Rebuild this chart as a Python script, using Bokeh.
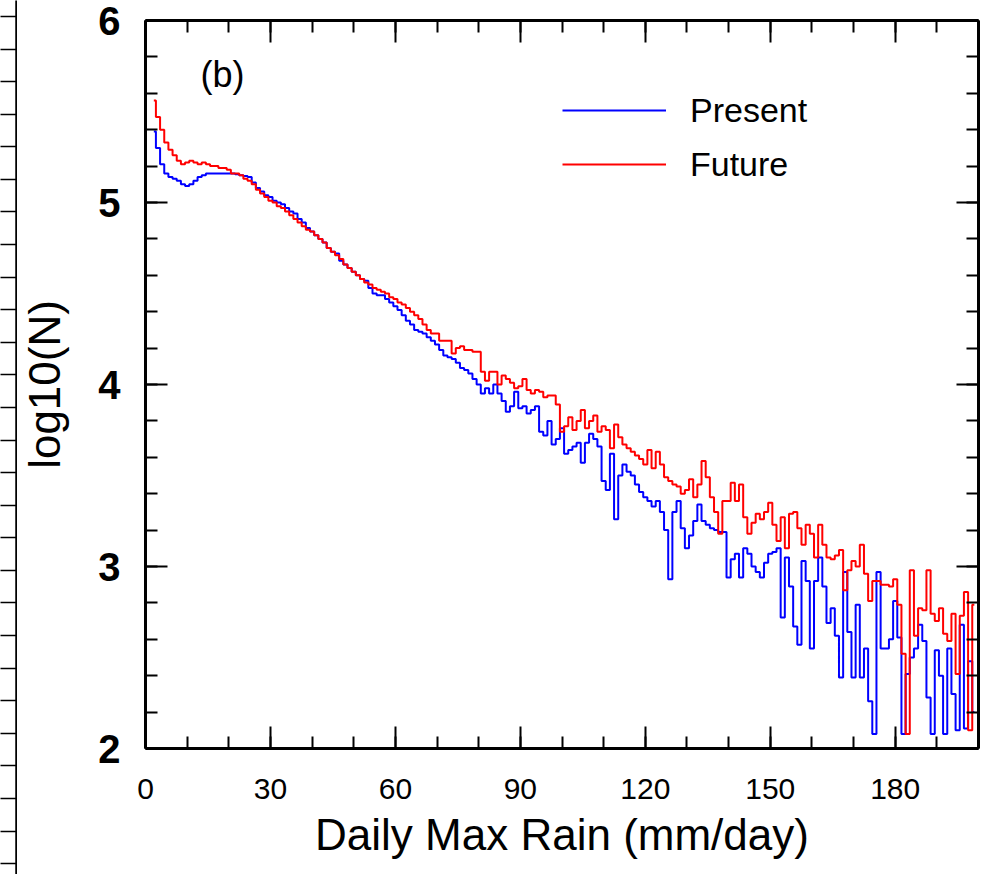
from bokeh.plotting import figure
from bokeh.models import Range1d, LinearAxis, SingleIntervalTicker, Label
from bokeh.layouts import row
from bokeh.embed import file_html
from bokeh.resources import INLINE

# ---------------- data ----------------
rain_bins = list(range(2, 200))  # mm/day, 1 mm/day bins

present = [
    5.39, 5.30, 5.21, 5.16, 5.14, 5.13, 5.12, 5.10, 5.09, 5.10,   # 2-11
    5.12, 5.14, 5.15, 5.16, 5.16, 5.16, 5.16, 5.16, 5.16, 5.16,   # 12-21
    5.155, 5.15, 5.145, 5.14, 5.11, 5.08, 5.06, 5.04, 5.03, 5.01, # 22-31
    5.00, 4.99, 4.97, 4.95, 4.94, 4.91, 4.89, 4.86, 4.84, 4.82,   # 32-41
    4.80, 4.78, 4.75, 4.73, 4.72, 4.68, 4.66, 4.64, 4.62, 4.60,   # 42-51
    4.58, 4.57, 4.53, 4.50, 4.49, 4.49, 4.47, 4.45, 4.43, 4.41,   # 52-61
    4.38, 4.35, 4.33, 4.30, 4.29, 4.28, 4.26, 4.24, 4.22, 4.19,   # 62-71
    4.16, 4.15, 4.14, 4.12, 4.09, 4.08, 4.06, 4.03, 4.00, 3.95,   # 72-81
    3.98, 3.95, 4.00, 3.95, 3.91, 3.85, 3.88, 3.96, 3.87, 3.88,   # 82-91
    3.84, 3.86, 3.88, 3.74, 3.72, 3.80, 3.67, 3.70, 3.76, 3.62,   # 92-101
    3.64, 3.66, 3.68, 3.57, 3.68, 3.73, 3.70, 3.66, 3.47, 3.42,   # 102-111
    3.62, 3.26, 3.50, 3.56, 3.52, 3.50, 3.45, 3.41, 3.38, 3.36,   # 112-121
    3.33, 3.36, 3.30, 3.20, 2.93, 3.30, 3.36, 3.21, 3.10, 3.17,   # 122-131
    3.25, 3.34, 3.25, 3.23, 3.21, 3.20, 3.19, 3.19, 2.94, 3.04,   # 132-141
    3.07, 2.94, 3.10, 3.07, 3.00, 2.97, 2.94, 3.02, 3.07, 3.08,   # 142-151
    3.10, 2.72, 3.05, 2.89, 2.67, 2.57, 3.03, 2.92, 2.55, 2.92,   # 152-161
    3.05, 2.89, 2.69, 2.77, 2.62, 2.39, 2.97, 2.64, 2.39, 2.79,   # 162-171
    2.39, 2.55, 2.26, 2.08, 2.97, 2.55, 2.55, 2.60, 2.81, 2.61,   # 172-181
    2.08, 2.41, 2.50, 2.55, 2.68, 2.59, 2.28, 2.08, 2.54, 2.40,   # 182-191
    2.08, 2.55, 2.30, 2.10, 2.68, 2.11, 2.48, 2.20,               # 192-199
]

future = [
    5.56, 5.47, 5.40, 5.33, 5.29, 5.26, 5.23, 5.21, 5.22, 5.23,   # 2-11
    5.22, 5.21, 5.22, 5.21, 5.20, 5.20, 5.19, 5.19, 5.18, 5.16,   # 12-21
    5.16, 5.15, 5.13, 5.12, 5.10, 5.07, 5.05, 5.03, 5.01, 5.00,   # 22-31
    4.98, 4.97, 4.95, 4.93, 4.91, 4.89, 4.87, 4.85, 4.84, 4.82,   # 32-41
    4.80, 4.78, 4.75, 4.73, 4.71, 4.69, 4.66, 4.64, 4.62, 4.60,   # 42-51
    4.58, 4.56, 4.55, 4.53, 4.52, 4.51, 4.50, 4.48, 4.47, 4.45,   # 52-61
    4.44, 4.42, 4.40, 4.38, 4.36, 4.33, 4.30, 4.28, 4.28, 4.24,   # 62-71
    4.24, 4.24, 4.17, 4.20, 4.21, 4.19, 4.19, 4.18, 4.18, 4.07,   # 72-81
    4.02, 4.07, 4.07, 4.00, 4.05, 4.03, 4.01, 3.98, 3.99, 4.03,   # 82-91
    3.97, 3.95, 3.97, 3.96, 3.93, 3.94, 3.94, 3.89, 3.74, 3.77,   # 92-101
    3.82, 3.75, 3.80, 3.86, 3.76, 3.80, 3.83, 3.74, 3.77, 3.75,   # 102-111
    3.65, 3.78, 3.71, 3.67, 3.65, 3.63, 3.61, 3.59, 3.56, 3.64,   # 112-121
    3.54, 3.63, 3.56, 3.49, 3.47, 3.45, 3.44, 3.40, 3.42, 3.48,   # 122-131
    3.38, 3.45, 3.58, 3.49, 3.38, 3.30, 3.18, 3.36, 3.36, 3.46,   # 132-141
    3.36, 3.45, 3.27, 3.18, 3.24, 3.29, 3.26, 3.30, 3.35, 3.23,   # 142-151
    3.14, 3.27, 3.10, 3.29, 3.30, 3.21, 3.12, 3.23, 3.18, 3.05,   # 152-161
    3.23, 3.12, 3.05, 3.04, 3.06, 3.09, 2.87, 2.98, 3.03, 3.00,   # 162-171
    3.12, 2.96, 2.81, 2.92, 2.92, 2.90, 2.90, 2.89, 2.93, 2.79,   # 172-181
    2.52, 2.08, 2.98, 2.62, 2.77, 2.76, 2.98, 2.74, 2.70, 2.77,   # 182-191
    2.63, 2.59, 2.74, 2.41, 2.73, 2.86, 2.10, 2.79,               # 192-199
]

x_label = "Daily Max Rain (mm/day)"
y_label = "log10(N)"
panel_tag = "(b)"
series_names = ["Present", "Future"]

FONT = "Liberation Sans"


def hide_labels(ax):
    ax.major_label_text_font_size = "1px"
    ax.major_label_text_color = None
    ax.major_label_standoff = 0


# ---------------- remnant of the neighbouring panel (left edge) ----------------
side = figure(width=17, height=874, output_backend="svg", toolbar_location=None,
              x_range=Range1d(0, 1), y_range=Range1d(-26.335, 0.491),
              x_axis_location=None, y_axis_location=None,
              min_border_left=16, min_border_right=0, min_border_top=0, min_border_bottom=0)
side.frame_align = False
side.outline_line_color = None
side.xgrid.visible = False
side.ygrid.visible = False
sax = LinearAxis(ticker=SingleIntervalTicker(interval=1, num_minor_ticks=0))
sax.axis_line_width = 2.5
sax.major_tick_in = 0
sax.major_tick_out = 16
sax.major_tick_line_width = 1.5
sax.minor_tick_line_color = None
hide_labels(sax)
side.add_layout(sax, "left")

# ---------------- main panel ----------------
p = figure(width=966, height=874, output_backend="svg", toolbar_location=None,
           x_range=Range1d(0, 200), y_range=Range1d(2, 6),
           min_border_left=128, min_border_right=5, min_border_top=20, min_border_bottom=126)
p.frame_align = False
p.outline_line_color = None
p.xgrid.visible = False
p.ygrid.visible = False

p.step(rain_bins, present, mode="center", line_color="#0000ff", line_width=2,
       legend_label=series_names[0])
p.step(rain_bins, future, mode="center", line_color="#ff0000", line_width=2,
       legend_label=series_names[1])

xt = SingleIntervalTicker(interval=30, num_minor_ticks=3)
yt = SingleIntervalTicker(interval=1, num_minor_ticks=5)

xa = p.below[0]
ya = p.left[0]
xa.ticker = xt
ya.ticker = yt
top = LinearAxis(ticker=xt)
right = LinearAxis(ticker=yt)
p.add_layout(top, "above")
p.add_layout(right, "right")

for ax in [xa, ya, top, right]:
    ax.axis_line_width = 3
    ax.axis_line_color = "black"
    ax.major_tick_in = 22
    ax.major_tick_out = 0
    ax.minor_tick_in = 12
    ax.minor_tick_out = 0
    ax.major_tick_line_width = 2
    ax.minor_tick_line_width = 2

hide_labels(top)
hide_labels(right)

xa.major_label_text_font = FONT
xa.major_label_text_font_size = "30px"
xa.major_label_text_color = "black"
xa.major_label_standoff = 30
xa.axis_label = x_label
xa.axis_label_text_font = FONT
xa.axis_label_text_font_size = "44px"
xa.axis_label_text_font_style = "normal"
xa.axis_label_text_color = "black"
xa.axis_label_standoff = 8

ya.major_label_text_font = FONT
ya.major_label_text_font_style = "bold"
ya.major_label_text_font_size = "40px"
ya.major_label_text_color = "black"
ya.major_label_standoff = 25
ya.major_label_orientation = "horizontal"
ya.axis_label = y_label
ya.axis_label_text_font = FONT
ya.axis_label_text_font_size = "44px"
ya.axis_label_text_font_style = "normal"
ya.axis_label_text_color = "black"
ya.axis_label_standoff = 26

lg = p.legend[0]
lg.location = (417, 562)
lg.border_line_color = None
lg.background_fill_alpha = 0
lg.padding = 0
lg.margin = 0
lg.spacing = 10
lg.glyph_width = 104
lg.glyph_height = 44
lg.label_height = 44
lg.label_standoff = 24
lg.label_text_font = FONT
lg.label_text_font_size = "34px"
lg.label_text_color = "black"

p.add_layout(Label(x=55, y=674, x_units="screen", y_units="screen", text=panel_tag,
                   text_font=FONT, text_font_size="36px", text_baseline="middle",
                   text_color="black"))

layout = row(side, p)
open("out.html", "w").write(file_html(layout, INLINE))
